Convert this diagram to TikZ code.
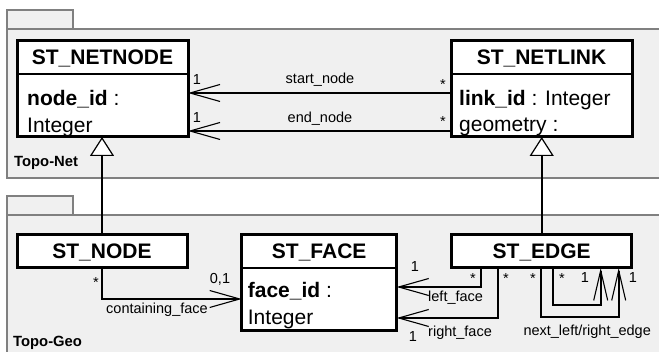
\documentclass[tikz,border=0pt]{standalone}
\usepackage{fontspec}
\setmainfont{Liberation Sans}
\usetikzlibrary{arrows.meta,calc,positioning}
\definecolor{PkgGray}{RGB}{128,128,128}
\definecolor{PkgFill}{RGB}{240,240,240}

\begin{document}
\begin{tikzpicture}[x=1pt,y=1pt,
  pkg/.style={draw=PkgGray,fill=PkgFill,line width=2pt},
  pkglbl/.style={anchor=base west,inner sep=0pt,font=\bfseries\fontsize{14.8}{17}\selectfont},
  clshead/.style={draw,fill=white,line width=1.5pt,minimum height=33pt,inner sep=0pt,outer sep=0pt,
    text height=15pt,text depth=0pt,font=\bfseries\fontsize{21}{25}\selectfont},
  clsonly/.style={clshead,line width=3pt},
  clsbody/.style={draw,fill=white,line width=1.5pt,minimum height=63pt,inner sep=0pt,outer sep=0pt},
  clsframe/.style={line width=3pt},
  attr/.style={anchor=base west,inner sep=0pt,font=\fontsize{21}{25}\selectfont},
  lbl/.style={anchor=base,inner sep=0pt,font=\fontsize{14.5}{17}\selectfont},
  assoc/.style={line width=2pt,-{Straight Barb[length=30pt,width=17pt,line width=1.1pt]}},
  selfassoc/.style={line width=2pt,-{Straight Barb[length=30pt,width=14pt,line width=1.1pt]}},
  gen/.style={line width=2pt,-{Triangle[length=19pt,width=24pt,fill=white,line width=1.2pt]}}]
\useasboundingbox (0,0) rectangle (659,352);
% packages
\draw[pkg] (7,323) rectangle (73,342);
\draw[pkg] (7,174) rectangle (680,323);
\node[pkglbl] (topnet) at (14,185) {Topo-Net};
\draw[pkg] (7,137) rectangle (73,156);
\draw[pkg] (7,-20) rectangle (680,137);
\node[pkglbl] (topgeo) at (13,5) {Topo-Geo};
% Topo-Net classes
\node[clshead,minimum width=171pt] (netnode) at (102.5,294.5) {ST\_NETNODE};
\node[clsbody,minimum width=171pt,below=0pt of netnode] (netnodeattr) {};
\draw[clsframe] (netnode.north west) rectangle (netnodeattr.south east);
\node[attr] (nodeid) at ([xshift=10pt,yshift=-32pt]netnodeattr.north west) {\textbf{node\_id} :};
\node[attr] (nodeidt) at ([xshift=10pt,yshift=-59pt]netnodeattr.north west) {Integer};
\node[clshead,minimum width=181pt] (netlink) at (541.5,294.5) {ST\_NETLINK};
\node[clsbody,minimum width=181pt,below=0pt of netlink] (netlinkattr) {};
\draw[clsframe] (netlink.north west) rectangle (netlinkattr.south east);
\node[attr] (linkid) at ([xshift=8pt,yshift=-32pt]netlinkattr.north west) {\textbf{link\_id} : Integer};
\node[attr] (linkgeom) at ([xshift=8pt,yshift=-58pt]netlinkattr.north west) {geometry :};
% Topo-Geo classes
\node[clsonly,minimum width=170pt] (stnode) at (102,100.5) {ST\_NODE};
\node[clshead,minimum width=155pt] (stface) at (319.2,100.5) {ST\_FACE};
\node[clsbody,minimum width=155pt,below=0pt of stface] (stfaceattr) {};
\draw[clsframe] (stface.north west) rectangle (stfaceattr.south east);
\node[attr] (faceid) at ([xshift=6pt,yshift=-30pt]stfaceattr.north west) {\textbf{face\_id} :};
\node[attr] (faceidt) at ([xshift=6pt,yshift=-57pt]stfaceattr.north west) {Integer};
\node[clsonly,minimum width=180pt] (stedge) at (541.7,100.5) {ST\_EDGE};
% generalisations
\draw[gen] (stnode.north) -- (stnode.north |- netnodeattr.south);
\draw[gen] (stedge.north) -- (stedge.north |- netlinkattr.south);
% associations
\draw[assoc] ([yshift=-19pt]netlinkattr.north west) -- ([yshift=-19pt]netnodeattr.north east);
\draw[assoc] ([yshift=-57pt]netlinkattr.north west) -- ([yshift=-57pt]netnodeattr.north east);
\draw[assoc] (stnode.south) |- ([yshift=-31pt]stfaceattr.north west);
\draw[assoc] ([xshift=29pt]stedge.south west) |- ([yshift=-19pt]stfaceattr.north east);
\draw[assoc] ([xshift=46pt]stedge.south west) |- ([yshift=-50pt]stfaceattr.north east);
\draw[selfassoc] ([xshift=101pt]stedge.south west) -- ++(0,-37pt) -| ([xshift=149pt]stedge.south west);
\draw[selfassoc] ([xshift=89pt]stedge.south west) -- ++(0,-49pt) -| ([xshift=167pt]stedge.south west);
% role names and multiplicities
\node[lbl] (m1) at (197,267) {1};
\node[lbl] (rstart) at (320,268) {start\_node};
\node[lbl] (m2) at (443,262) {*};
\node[lbl] (m3) at (197,229) {1};
\node[lbl] (rend) at (320,229) {end\_node};
\node[lbl] (m4) at (443,225) {*};
\node[lbl] (m5) at (96,64.4) {*};
\node[lbl] (m6) at (220,68) {0,1};
\node[lbl] (rcont) at (157,38.7) {containing\_face};
\node[lbl] (m7) at (415,80.3) {1};
\node[lbl] (m8) at (473,68) {*};
\node[lbl,anchor=base west] (rleft) at (428,50.3) {left\_face};
\node[lbl] (m9) at (506,68) {*};
\node[lbl,anchor=base west] (rright) at (428,15.3) {right\_face};
\node[lbl] (m10) at (413,10.3) {1};
\node[lbl] (m11) at (533,68) {*};
\node[lbl] (m12) at (562,68) {*};
\node[lbl] (m13) at (585,69.7) {1};
\node[lbl] (m14) at (633,69.7) {1};
\node[lbl,anchor=base west] (rnext) at (523.3,16) {next\_left/right\_edge};
\end{tikzpicture}
\end{document}
